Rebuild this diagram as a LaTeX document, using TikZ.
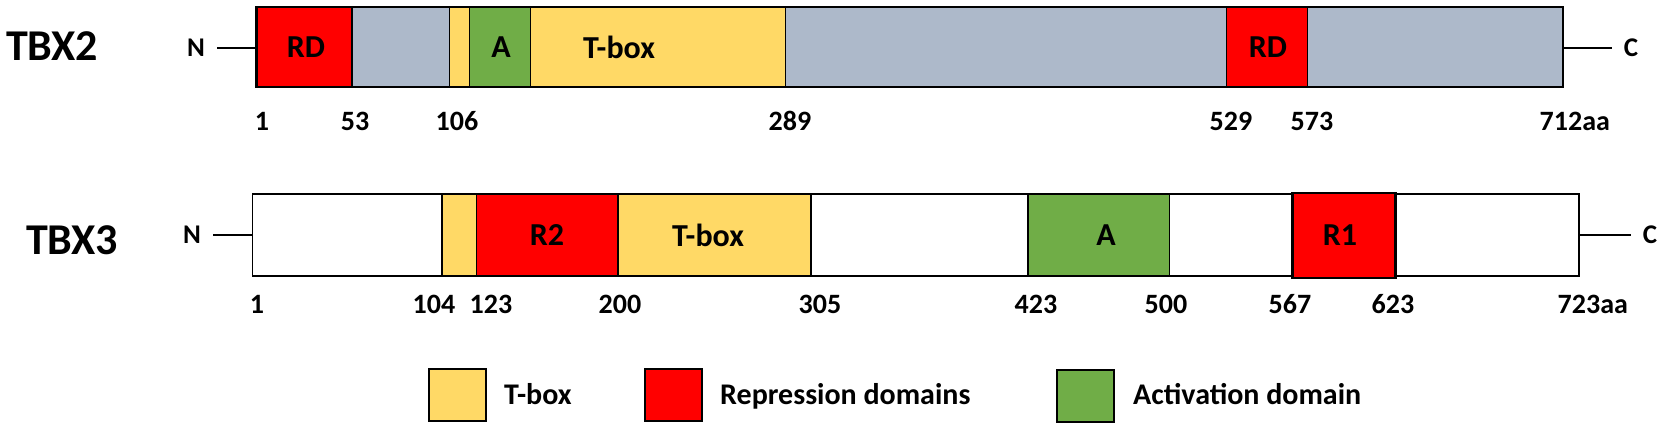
\documentclass[tikz,border=0pt]{standalone}
\usepackage{fontspec}
\setmainfont{Carlito}
\definecolor{tboxyellow}{HTML}{FFD966}
\definecolor{repred}{HTML}{FF0000}
\definecolor{actgreen}{HTML}{70AD47}
\definecolor{restgray}{HTML}{ADB9CA}
\tikzset{
  seg/.style={draw=black, line width=1.5pt},
  outline/.style={draw=black, line width=2.5pt},
  connector/.style={line width=1.5pt},
  protname/.style={font=\fontsize{44}{44}\selectfont\bfseries},
  dlabel/.style={font=\fontsize{32}{32}\selectfont\bfseries},
  aalabel/.style={font=\fontsize{28}{28}\selectfont\bfseries},
  endlabel/.style={font=\fontsize{27}{27}\selectfont\bfseries, inner sep=12pt},
  legbox/.style={draw=black, line width=2pt, minimum width=57pt, minimum height=52pt, inner sep=0pt},
  legtext/.style={font=\fontsize{30}{30}\selectfont\bfseries, anchor=base west, inner sep=0pt},
}
\begin{document}
\begin{tikzpicture}[x=1pt, y=-1pt]
        \useasboundingbox (0,0) rectangle (1663,428);
        %% TBX2
        \node[protname] (tbx2) at (52,46) {TBX2};
        \begin{scope}[xshift=254.66pt, x=1.8375pt]
            \draw[seg, fill=restgray] (1,7) rectangle (712,87);
            \draw[seg, fill=repred] (1,7) rectangle (53,87);
            \draw[seg, fill=tboxyellow] (106,7) rectangle (117,87);
            \draw[seg, fill=actgreen] (117,7) rectangle (150,87);
            \draw[seg, fill=tboxyellow] (150,7) rectangle (289,87);
            \draw[seg, fill=repred] (529,7) rectangle (573,87);
            \draw[outline] (1,7) rectangle (712,87);
            \coordinate (t2start) at (1,48);
            \coordinate (t2end) at (712,48);
        \end{scope}
        \node[dlabel] (t2rd1) at (306,47) {RD};
        \node[dlabel] (t2act) at (501,47) {A};
        \node[dlabel] (t2tbox) at (619,47) {T-box};
        \node[dlabel] (t2rd2) at (1268,47) {RD};
        \node[endlabel] (t2N) at (196,48) {N};
        \node[endlabel] (t2C) at (1631,48) {C};
        \draw[connector] (t2N) -- (t2start);
        \draw[connector] (t2end) -- (t2C);
        %% TBX2 positions
        \node[aalabel] (t2p1) at (262,121) {1};
        \node[aalabel] (t2p53) at (355,121) {53};
        \node[aalabel] (t2p106) at (457,121) {106};
        \node[aalabel] (t2p289) at (790,121) {289};
        \node[aalabel] (t2p529) at (1231,121) {529};
        \node[aalabel] (t2p573) at (1312,121) {573};
        \node[aalabel] (t2p712) at (1561,121) {712\rlap{aa}};
        %% TBX3
        \node[protname] (tbx3) at (72,240) {TBX3};
        \begin{scope}[xshift=250.66pt, x=1.8375pt]
            \draw[seg, fill=white] (1,194) rectangle (723,276);
            \draw[seg, fill=tboxyellow] (104,194) rectangle (123,276);
            \draw[seg, fill=repred] (123,194) rectangle (200,276);
            \draw[seg, fill=tboxyellow] (200,194) rectangle (305,276);
            \draw[seg, fill=actgreen] (423,194) rectangle (500,276);
            \draw[outline, fill=repred] (567,193) rectangle (623,278);
            \coordinate (t3start) at (1,235);
            \coordinate (t3end) at (723,235);
        \end{scope}
        \node[dlabel] (t3r2) at (547,235) {R2};
        \node[dlabel] (t3tbox) at (708,235) {T-box};
        \node[dlabel] (t3act) at (1106,235) {A};
        \node[dlabel] (t3r1) at (1340,235) {R1};
        \node[endlabel] (t3N) at (192,235) {N};
        \node[endlabel] (t3C) at (1650,235) {C};
        \draw[connector] (t3N) -- (t3start);
        \draw[connector] (t3end) -- (t3C);
        %% TBX3 positions
        \node[aalabel] (t3p1) at (257,304) {1};
        \node[aalabel] (t3p104) at (434,304) {104};
        \node[aalabel] (t3p123) at (491,304) {123};
        \node[aalabel] (t3p200) at (620,304) {200};
        \node[aalabel] (t3p305) at (820,304) {305};
        \node[aalabel] (t3p423) at (1036,304) {423};
        \node[aalabel] (t3p500) at (1166,304) {500};
        \node[aalabel] (t3p567) at (1290,304) {567};
        \node[aalabel] (t3p623) at (1393,304) {623};
        \node[aalabel] (t3p723) at (1579,304) {723\rlap{aa}};
        %% Legend
        \node[legbox, fill=tboxyellow] (keytbox) at (457.5,395) {};
        \node[legtext] (keytboxtxt) at (504,404) {T-box};
        \node[legbox, fill=repred] (keyrep) at (673,395) {};
        \node[legtext] (keyreptxt) at (720,404) {Repression domains};
        \node[legbox, fill=actgreen] (keyact) at (1085.5,396) {};
        \node[legtext] (keyacttxt) at (1133,404) {Activation domain};
\end{tikzpicture}
\end{document}
